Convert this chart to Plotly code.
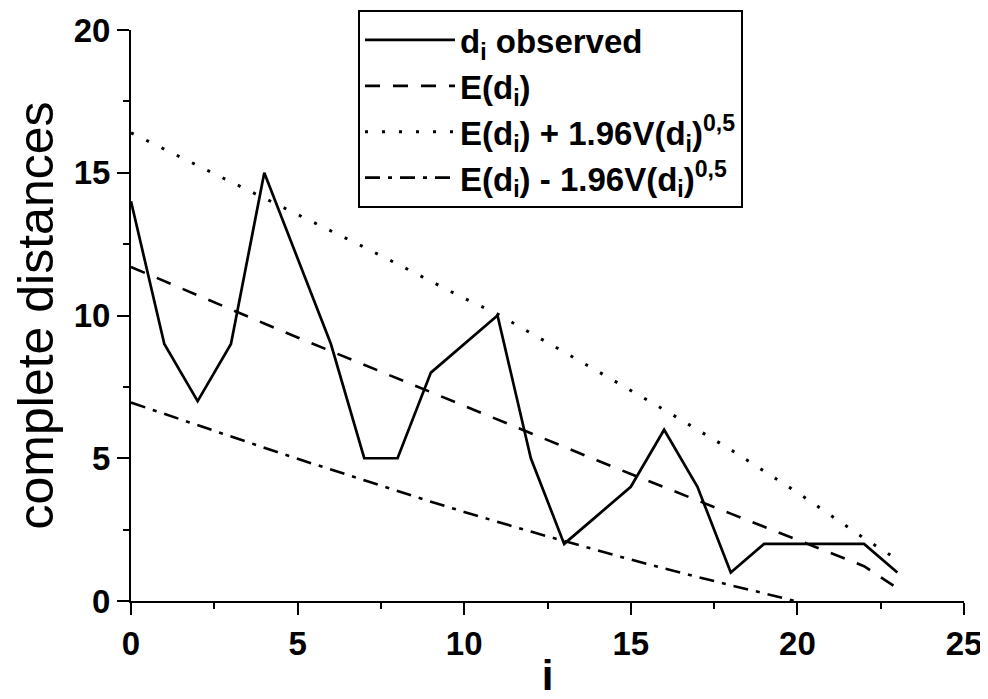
import plotly.graph_objects as go

x_obs = list(range(24))
d_obs = [14, 9, 7, 9, 15, 12, 9, 5, 5, 8, 9, 10, 5, 2, 3, 4, 6, 4, 1, 2, 2, 2, 2, 1]

x_exp = list(range(24))
e_d = [11.7, 11.2, 10.7, 10.2, 9.72, 9.23, 8.75, 8.26, 7.78, 7.3, 6.82, 6.34,
       5.87, 5.39, 4.92, 4.45, 3.98, 3.52, 3.06, 2.6, 2.14, 1.68, 1.22, 0.45]

x_up = list(range(24))
upper = [16.4, 15.83, 15.26, 14.69, 14.12, 13.55, 12.97, 12.39, 11.8, 11.2, 10.6,
         10.05, 9.4, 8.72, 8.05, 7.38, 6.7, 6.0, 5.3, 4.55, 3.8, 3.0, 2.2, 1.45]

x_low = list(range(21))
lower = [6.95, 6.55, 6.15, 5.75, 5.37, 4.98, 4.6, 4.22, 3.85, 3.48, 3.12, 2.77,
         2.43, 2.1, 1.77, 1.45, 1.14, 0.84, 0.55, 0.27, -0.02]

names = [
    "d<sub>i</sub> observed",
    "E(d<sub>i</sub>)",
    "E(d<sub>i</sub>) + 1.96V(d<sub>i</sub>)<sup>0,5</sup>",
    "E(d<sub>i</sub>) - 1.96V(d<sub>i</sub>)<sup>0,5</sup>",
]

fig = go.Figure()
fig.add_trace(go.Scatter(x=x_obs, y=d_obs, mode="lines", name=names[0],
                         line=dict(color="black", width=2.7)))
fig.add_trace(go.Scatter(x=x_exp, y=e_d, mode="lines", name=names[1],
                         line=dict(color="black", width=2.6, dash="15px,13px")))
fig.add_trace(go.Scatter(x=x_up, y=upper, mode="lines", name=names[2],
                         line=dict(color="black", width=3, dash="3px,14px")))
fig.add_trace(go.Scatter(x=x_low, y=lower, mode="lines", name=names[3],
                         line=dict(color="black", width=2.6, dash="15px,8px,4px,8px")))

axis_common = dict(
    showgrid=False, zeroline=False, showline=True, linecolor="black", linewidth=2,
    ticks="outside", ticklen=12, tickwidth=2, tickcolor="black",
    tickfont=dict(family="Liberation Sans", size=33, color="black", weight="bold"),
    minor=dict(ticks="outside", ticklen=6, tickwidth=2, tickcolor="black", dtick=2.5),
    mirror=False, automargin=False,
)

# page body has an 8px margin: figure sized/offset to compensate
fig.update_layout(
    width=980, height=691,
    paper_bgcolor="white", plot_bgcolor="white",
    margin=dict(l=123, r=24, t=2, b=98),
    font=dict(family="Liberation Sans", color="black"),
    xaxis=dict(range=[0, 25], dtick=5, tick0=0,
               title=dict(text="<b>i</b>", font=dict(size=42, family="Liberation Sans"), standoff=2),
               **axis_common),
    yaxis=dict(range=[0, 20], dtick=5, tick0=0, domain=[0, 571 / 591],
               title=dict(text="complete distances", font=dict(size=50, family="Liberation Sans"), standoff=8),
               **axis_common),
    legend=dict(x=0.2725, y=1.0, xanchor="left", yanchor="top",
                bordercolor="black", borderwidth=2, bgcolor="white",
                font=dict(family="Liberation Sans", size=33, color="black", weight="bold"),
                tracegroupgap=0, itemwidth=90),
    showlegend=True,
)

fig.write_html("out.html")
